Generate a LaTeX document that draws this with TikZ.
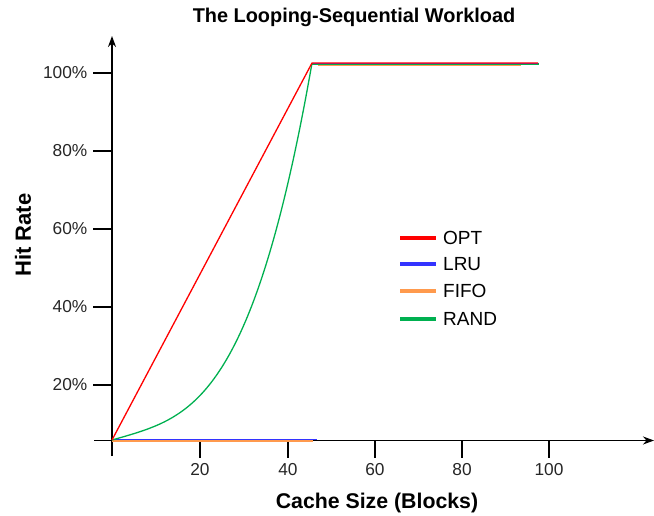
\documentclass[tikz,border=0pt]{standalone}
\usepackage{fontspec}
\setmainfont{Liberation Sans}
\usetikzlibrary{arrows.meta}
\definecolor{optc}{RGB}{255,0,0}
\definecolor{lruc}{RGB}{51,51,255}
\definecolor{fifoc}{RGB}{255,154,77}
\definecolor{randc}{RGB}{0,176,80}
\tikzset{
  axisline/.style={line width=1.8pt,-{Stealth[length=11pt,width=8pt]}},
  tickline/.style={line width=1.6pt},
  ticklab/.style={font=\fontsize{17.3}{19}\selectfont,text=black!85},
  curve/.style={line width=1.3pt},
  legline/.style={line width=4pt},
  legtext/.style={font=\fontsize{19}{21}\selectfont,anchor=west,inner sep=0pt},
  boldlab/.style={font=\bfseries\fontsize{19.9}{22}\selectfont}
}
\begin{document}
\begin{tikzpicture}[x=1pt,y=-1pt]
\useasboundingbox (0,0) rectangle (654,516);
% title and labels
\node[boldlab] (title) at (354,17) {The Looping-Sequential Workload};
\node[boldlab,font=\bfseries\fontsize{22}{24}\selectfont,rotate=90] (ylab) at (23,235) {Hit Rate};
\node[boldlab,font=\bfseries\fontsize{21.3}{24}\selectfont] (xlab) at (377,503) {Cache Size (Blocks)};
% axes
\coordinate (ybot) at (112,456);
\coordinate (ytop) at (112,36);
\coordinate (xleft) at (94,440.5);
\coordinate (xright) at (654,440.5);
\draw[axisline] (ybot) -- (ytop);
\draw[axisline] (xleft) -- (xright);
% y ticks
\foreach \yy/\lab [count=\i] in {73/100\%,151/80\%,229/60\%,307/40\%,385/20\%}{
  \coordinate (yt\i) at (93,\yy);
  \coordinate (yb\i) at (112,\yy);
  \draw[tickline] (yt\i) -- (yb\i);
  \node[ticklab,anchor=east,inner sep=0pt] (ylab\i) at (87.5,\yy) {\lab};
}
% x ticks
\foreach \xx/\lab [count=\i] in {200/20,288/40,375/60,462/80,549/100}{
  \coordinate (xt\i) at (\xx,440.5);
  \coordinate (xb\i) at (\xx,458);
  \draw[tickline] (xt\i) -- (xb\i);
  \node[ticklab,inner sep=0pt] (xlab\i) at (\xx,470) {\lab};
}
% curves
\coordinate (o) at (112,440);
\coordinate (top) at (312,63);
% bottom LRU / FIFO
\draw[curve,draw=fifoc] (112,441) coordinate (f0) -- (313,441) coordinate (f1);
\draw[curve,draw=lruc] (112,439.3) coordinate (l0) -- (317,439.3) coordinate (l1);
% top segments
\draw[curve,draw=randc,line width=1.6pt] (312,64.3) coordinate (r2) -- (539,64.3) coordinate (r3);
\draw[curve,draw=fifoc] (318,65.2) coordinate (f2) -- (521,65.2) coordinate (f3);
\draw[curve,draw=lruc] (313,63.6) coordinate (l2) -- (538,63.6) coordinate (l3);
% RAND
\draw[curve,draw=randc,line join=round] (o) -- plot[domain=0.01:1,samples=100]
  ({112+200*\x},{440-377*(0.15*\x+0.85*(\x)^3.4)});
% OPT
\draw[curve,draw=optc] (o) -- (top) -- (538,63) coordinate (optend);
% legend
\foreach \yy/\col/\lab [count=\i] in {238/optc/OPT,264/lruc/LRU,291/fifoc/FIFO,319/randc/RAND}{
  \coordinate (la\i) at (400,\yy);
  \coordinate (lb\i) at (436,\yy);
  \draw[legline,draw=\col] (la\i) -- (lb\i);
  \node[legtext] (lt\i) at (443,\yy) {\lab};
}
\end{tikzpicture}
\end{document}
